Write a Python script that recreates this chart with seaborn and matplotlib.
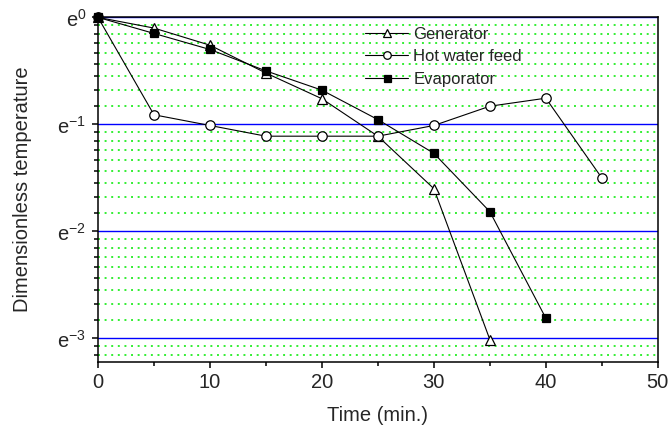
'''
    plot.py
    Dimensionless temperature vs time for generator, hot water feed and evaporator.
'''
import numpy as np
import pandas as pd
import seaborn as sns
import matplotlib
matplotlib.use('Agg')
import matplotlib.pyplot as plt
from matplotlib.ticker import FixedLocator, FixedFormatter, MultipleLocator
from matplotlib.lines import Line2D

# values, y given as ln(T*)
GEN_TIME = [0, 5, 10, 15, 20, 25, 30, 35]
GEN_LN = [0.0, -0.10, -0.26, -0.52, -0.76, -1.11, -1.60, -3.01]

HOT_TIME = [0, 5, 10, 15, 20, 25, 30, 35, 40, 45]
HOT_LN = [0.0, -0.91, -1.01, -1.11, -1.11, -1.11, -1.01, -0.83, -0.755, -1.50]

EVAP_TIME = [0, 5, 10, 15, 20, 25, 30, 35, 40]
EVAP_LN = [0.0, -0.15, -0.30, -0.50, -0.68, -0.955, -1.27, -1.815, -2.81]

SERIES = ['Generator', 'Hot water feed', 'Evaporator']
Y_TICK_EXP = [0, -1, -2, -3]


def _frame(times, lns, name):
    return pd.DataFrame({'time': times, 'temp': np.exp(lns), 'series': name})


def _minor_positions():
    # linear steps between successive powers of e
    pos = []
    for n in range(-4, 0):
        lo, hi = np.e ** n, np.e ** (n + 1)
        pos += [lo + k * (hi - lo) / 9 for k in range(1, 9)]
    return pos


def main():
    sns.set_style('ticks')
    plt.rcParams['font.family'] = ['Liberation Sans', 'DejaVu Sans']
    plt.rcParams['mathtext.default'] = 'regular'

    df = pd.concat([_frame(GEN_TIME, GEN_LN, SERIES[0]),
                    _frame(HOT_TIME, HOT_LN, SERIES[1]),
                    _frame(EVAP_TIME, EVAP_LN, SERIES[2])])

    fig = plt.figure(figsize=(6.68, 4.29), dpi=100)
    ax = fig.add_axes([0.1467, 0.157, 0.838, 0.8025])

    styles = {
        'Generator': dict(marker='^', markerfacecolor='white', markersize=7.5),
        'Hot water feed': dict(marker='o', markerfacecolor='white', markersize=6.8),
        'Evaporator': dict(marker='s', markerfacecolor='black', markersize=6.3),
    }
    for name in SERIES:
        sns.lineplot(data=df[df.series == name], x='time', y='temp', ax=ax,
                     color='black', linewidth=0.8, markeredgecolor='black',
                     markeredgewidth=0.9, clip_on=False, zorder=5,
                     **styles[name])

    ax.set_yscale('log', base=np.e)
    ax.set_ylim(0.0401, 1.0)
    ax.set_xlim(0, 50)

    ax.yaxis.set_major_locator(FixedLocator([np.e ** p for p in Y_TICK_EXP]))
    ax.yaxis.set_major_formatter(
        FixedFormatter(['$e^{%d}$' % p for p in Y_TICK_EXP]))
    ax.yaxis.set_minor_locator(FixedLocator(_minor_positions()))
    ax.yaxis.set_minor_formatter(FixedFormatter([]))
    ax.xaxis.set_major_locator(MultipleLocator(10))
    ax.xaxis.set_minor_locator(MultipleLocator(5))

    ax.set_axisbelow(True)
    ax.yaxis.grid(True, which='major', color='#0000ff', linewidth=1.0)
    ax.yaxis.grid(True, which='minor', color='#33ee33', linewidth=1.4,
                  linestyle=(0, (1, 2.4)))
    ax.xaxis.grid(False)

    for sp in ax.spines.values():
        sp.set_color('black')
        sp.set_linewidth(1.1)
    ax.tick_params(which='major', direction='out', length=4.5, width=1.1,
                   labelsize=14.5, color='black', pad=4)
    ax.tick_params(which='minor', direction='out', length=3, width=1.1,
                   color='black')

    ax.set_xlabel('Time (min.)', fontsize=14.5, labelpad=10)
    ax.set_ylabel('Dimensionless temperature', fontsize=14.5, labelpad=18)

    handles = [Line2D([], [], color='black', linewidth=0.8,
                      markeredgecolor='black', markeredgewidth=0.9,
                      **styles[name]) for name in SERIES]
    ax.legend(handles, SERIES, loc='upper left', bbox_to_anchor=(0.45, 1.017),
              frameon=False, fontsize=12, handlelength=2.6, markerscale=0.8,
              handletextpad=0.3, labelspacing=0.45)

    fig.savefig('out.png', dpi=100)


if __name__ == '__main__':
    main()
